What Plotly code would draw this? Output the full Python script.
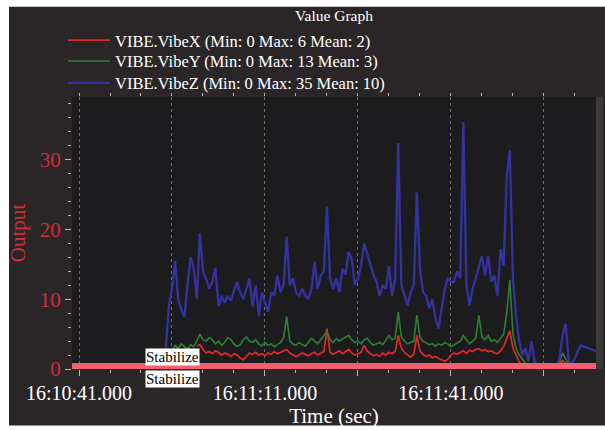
import plotly.graph_objects as go

# ---- log data (seconds of day, 0.5 s samples) ----
SAMPLE_START = 58254.5          # 16:10:54.5
SAMPLE_PERIOD = 0.5

vibe_z = [0, 3, 9, 11.5, 15.5, 10, 8.5, 7.5, 12, 16, 14.5, 10, 19.5, 14, 13, 11.5, 12.5, 14.5, 9, 10.5,
          9.5, 10.5, 9.8, 11, 12.5, 11, 10, 11.5, 13, 9, 12, 7.5, 11, 9.5, 8.2, 11, 10.5, 13.4, 11, 12,
          19, 12, 13, 11, 10.5, 11.5, 10.5, 10, 11.5, 15.4, 11.5, 13.4, 14, 23.3, 13, 11.5, 13, 11, 14.4, 13.5,
          16.8, 15.8, 12, 13, 14.8, 18, 16.5, 15, 13.5, 12.5, 10.5, 12, 11.5, 14.8, 10.5, 13, 32.4, 12, 10.5, 9.1,
          11, 12, 25.3, 14.4, 11, 10.5, 8.7, 10, 7.3, 5.8, 8.7, 11.5, 13, 12.5, 12.5, 14, 13, 35.4, 12, 9.1,
          11.5, 13, 14.8, 16.2, 13.4, 16.2, 12.5, 13.4, 10.5, 17.2, 14.8, 27.6, 31.4, 13, 7.7, 4, 2, 3, 1.1, 4,
          1, 0.4, 0.5, 0.3, 0.4, 0.3, 0.4, 0.4, 1.5, 4.8, 6.5, 1.1, 0.8, 1.5, 2.6, 3.4, 3.2, 3, 2.8, 2.6, 2.5]

vibe_y = [None, None, None, 2.5, 3.4, 3, 3.6, 3.2, 2.8, 3.5, 3.2, 4, 5, 4.2, 4, 4.5, 4.2, 3.6, 4, 3.4,
          3.8, 4.5, 4.2, 3.6, 3.2, 3.5, 4.2, 4.6, 4, 3.8, 4.2, 3.6, 3.3, 3.8, 3.4, 3.6, 3.2, 3.5, 3.8, 4.5,
          7.5, 4, 3.6, 3.4, 3.8, 3.5, 3.3, 3.8, 4.4, 4, 3.6, 4.2, 4.8, 5.4, 4.2, 3.8, 4.4, 4, 4.3, 4.6,
          4.8, 4.2, 3.8, 4, 3.6, 4.2, 4.4, 3.8, 3.4, 3.6, 3.8, 3.5, 4.2, 4.8, 4.2, 4.4, 8.2, 4.6, 4, 3.6,
          3.8, 4, 7.7, 4.5, 4, 3.8, 3.5, 3.6, 3.3, 3.6, 3.4, 3.8, 3.6, 3.2, 3.5, 3.8, 4, 4.8, 4.2, 3.6,
          4, 4.4, 7.7, 4.6, 4.2, 4.8, 4, 4.2, 3.8, 4.4, 5, 8, 12.8, 5, 3, 2, 1.5, 0.8, 0.5, 0.4,
          0.3, 0.2, 0.2, 0.1, 0.2, 0, 0.2, 0.3, 1, 2.3, 1.5, 0.6, 0.5, 0.5, 0.6, 0.5, 0.6, 0.5, 0.5, 0.4, 0.4]

vibe_x = [None] * 11 + [
          3.3, 3.5, 2.8, 2.3, 2.5, 2.2, 2.6, 2.4, 2, 2.3, 2.1, 1.8, 2.2, 2, 1.6, 1.3, 1.8, 2.3, 2.1,
          2.4, 2, 2.2, 1.9, 2.3, 2.1, 2.5, 2.2, 2.4, 2.6, 2.8, 2.3, 2.1, 1.8, 2, 2.3, 2.1, 1.9, 2.2, 2.4,
          2, 2.2, 2.5, 5.8, 2.4, 2.1, 2.3, 2.6, 2.2, 2.5, 2.8, 2.3, 2, 2.2, 2.4, 3.4, 2.6, 2.2, 1.9, 2.1,
          1.8, 2.3, 2, 2.4, 2.2, 2.5, 4.8, 3, 2.4, 2, 1.7, 2.1, 4.8, 2.6, 2.1, 1.8, 2, 1.6, 1.8, 1.5,
          1.3, 1.1, 1.4, 2, 2.3, 2.1, 2.4, 2.6, 2.2, 2.7, 2.5, 2.8, 2.9, 2.6, 2.8, 2.5, 2.6, 2.3, 2.2, 2.6,
          3.2, 4.5, 5.5, 3, 2, 1, 0.6, 0.4, 0.3, 0.4, 0.2, 0.3, 0.2, 0.3, 0.2, 0, 0.2, 0.3, 0.6, 1.2,
          0.8, 0.5, 0.4, 0.5, 0.4, 0.5, 0.4, 0.4, 0.5, 0.4, 0.3]

series_names = [
    "VIBE.VibeX (Min: 0 Max: 6 Mean: 2)",
    "VIBE.VibeY (Min: 0 Max: 13 Mean: 3)",
    "VIBE.VibeZ (Min: 0 Max: 35 Mean: 10)",
]

# flight-mode markers
mode_names = ["Stabilize", "Stabilize"]
mode_times = [58251.6, 58251.6]

# time axis
x_range = [58239.87, 58324.4]
grid_ticks = [58241, 58256, 58271, 58286, 58301, 58316]
grid_labels = ["16:10:41.000", "", "16:11:11.000", "", "16:11:41.000", ""]
y_range = [0, 39.0]

times = [SAMPLE_START + i * SAMPLE_PERIOD for i in range(len(vibe_z))]

FONT = "Liberation Serif"
FIG_BG = "#2a2628"
PLOT_BG = "#1c1b1d"
TICK_C = "#b8b6b6"
GRID_C = "#6c6a6a"
AXIS_RED = "#d42a3c"

# plot frame in pixels
L, R, T, B = 72, 9, 97, 59
PW, PH = 605 - L - R, 430 - T - B


def px_x(p):
    return (p - L) / PW


def px_y(p):
    return (430 - B - p) / PH


fig = go.Figure()

# mode line along zero
fig.add_trace(go.Scatter(x=x_range, y=[0, 0], mode="lines", xaxis="x2",
                         line=dict(color="#f2606e", width=12), showlegend=False, hoverinfo="skip"))

series = [
    (vibe_x, "#e3282a", 1.7, "legend"),
    (vibe_y, "#2c8036", 1.6, "legend2"),
    (vibe_z, "#3531a0", 2.3, "legend3"),
]
for (vals, color, width, leg), name in zip(series, series_names):
    fig.add_trace(go.Scatter(x=times, y=vals, mode="lines", name=name, legend=leg,
                             line=dict(color=color, width=width)))

shapes = [
    dict(type="rect", xref="paper", yref="paper", layer="below",
         x0=px_x(9), x1=px_x(606), y0=px_y(428), y1=px_y(6), fillcolor=FIG_BG, line_width=0),
    dict(type="rect", xref="paper", yref="paper", layer="below",
         x0=0, x1=1, y0=0, y1=1, fillcolor=PLOT_BG, line_width=0),
    dict(type="rect", xref="paper", yref="paper", layer="below",
         x0=1, x1=px_x(603), y0=0, y1=1, fillcolor="#3c393a", line_width=0),
]

annotations = []
for i, (name, t) in enumerate(zip(mode_names, mode_times)):
    annotations.append(dict(
        x=t, y=0, xref="x", yref="y", text=name, showarrow=False,
        xanchor="left", yanchor="bottom" if i == 0 else "top",
        yshift=3 if i == 0 else -1,
        bgcolor="white", borderpad=0,
        font=dict(family=FONT, size=15, color="black"),
    ))

legend_rows = [40, 61, 83]
legend_style = dict(bgcolor="rgba(0,0,0,0)", font=dict(family=FONT, size=16.5, color="white"),
                    itemwidth=42, xanchor="left", yanchor="middle", x=px_x(63))

xaxis_common = dict(
    range=x_range, tickmode="array", tickvals=grid_ticks,
    tickcolor=TICK_C, tickwidth=1, zeroline=False,
    minor=dict(dtick=5, tick0=grid_ticks[0], ticklen=3, tickcolor=TICK_C, showgrid=False),
)

fig.update_layout(
    width=605, height=430,
    margin=dict(l=L, r=R, t=T, b=B),
    paper_bgcolor="white",
    plot_bgcolor="rgba(0,0,0,0)",
    font=dict(family=FONT, color="white"),
    title=dict(text="Value Graph", x=0.5, xref="paper", y=1 - 16 / 430, yanchor="middle",
               font=dict(family=FONT, size=15.5, color="white")),
    showlegend=True,
    legend=dict(**legend_style, y=px_y(legend_rows[0])),
    legend2=dict(**legend_style, y=px_y(legend_rows[1])),
    legend3=dict(**legend_style, y=px_y(legend_rows[2])),
    xaxis=dict(
        **xaxis_common, ticktext=grid_labels, ticks="outside", ticklen=6,
        showgrid=True, gridcolor=GRID_C, griddash="dot", gridwidth=1,
        tickfont=dict(family=FONT, size=20, color="white"),
        title=dict(text="Time (sec)", font=dict(family=FONT, size=21, color="white"), standoff=2),
        showline=False,
    ),
    xaxis2=dict(
        **xaxis_common, overlaying="x", side="top", anchor="y",
        ticktext=[""] * len(grid_ticks), ticks="inside", ticklen=5,
        showgrid=False, showline=False, showticklabels=False,
    ),
    yaxis=dict(
        range=y_range, tickmode="linear", tick0=0, dtick=10,
        ticks="outside", ticklen=6, tickcolor=TICK_C, showgrid=False, zeroline=False,
        minor=dict(dtick=2, ticklen=3, tickcolor=TICK_C, ticks="outside", showgrid=False),
        tickfont=dict(family=FONT, size=21, color=AXIS_RED),
        title=dict(text="Output", font=dict(family=FONT, size=21, color=AXIS_RED), standoff=8),
        showline=False,
    ),
    shapes=shapes,
    annotations=annotations,
)

fig.write_html("out.html")
